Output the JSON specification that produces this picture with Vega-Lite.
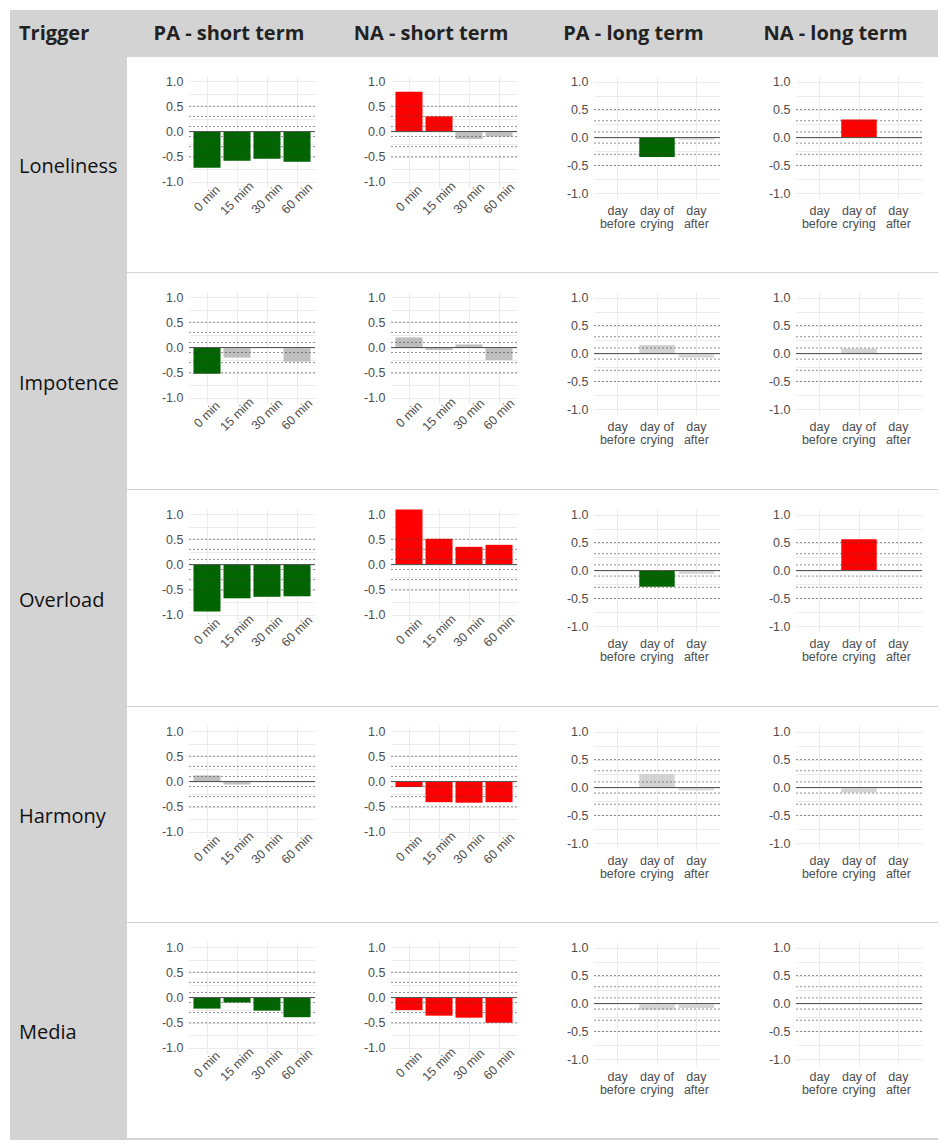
{"$schema":"https://vega.github.io/schema/vega-lite/v6.json","padding":{"left":10,"top":10,"right":10,"bottom":5},"background":"white","data":{"values":[{}]},
"datasets":{
"refs":[{"ref":-0.5},{"ref":-0.3},{"ref":-0.1},{"ref":0.1},{"ref":0.3},{"ref":0.5}],
"zero":[{"ref":0}],
"bars":[
{"trigger":"Loneliness","affect":"PA","term":"short","time":"0 min","value":-0.72,"sig":"PA"},
{"trigger":"Loneliness","affect":"PA","term":"short","time":"15 mim","value":-0.58,"sig":"PA"},
{"trigger":"Loneliness","affect":"PA","term":"short","time":"30 min","value":-0.54,"sig":"PA"},
{"trigger":"Loneliness","affect":"PA","term":"short","time":"60 min","value":-0.6,"sig":"PA"},
{"trigger":"Loneliness","affect":"NA","term":"short","time":"0 min","value":0.79,"sig":"NA"},
{"trigger":"Loneliness","affect":"NA","term":"short","time":"15 mim","value":0.3,"sig":"NA"},
{"trigger":"Loneliness","affect":"NA","term":"short","time":"30 min","value":-0.15,"sig":"ns"},
{"trigger":"Loneliness","affect":"NA","term":"short","time":"60 min","value":-0.1,"sig":"ns"},
{"trigger":"Impotence","affect":"PA","term":"short","time":"0 min","value":-0.52,"sig":"PA"},
{"trigger":"Impotence","affect":"PA","term":"short","time":"15 mim","value":-0.2,"sig":"ns"},
{"trigger":"Impotence","affect":"PA","term":"short","time":"30 min","value":0,"sig":"ns"},
{"trigger":"Impotence","affect":"PA","term":"short","time":"60 min","value":-0.28,"sig":"ns"},
{"trigger":"Impotence","affect":"NA","term":"short","time":"0 min","value":0.2,"sig":"ns"},
{"trigger":"Impotence","affect":"NA","term":"short","time":"15 mim","value":-0.05,"sig":"ns"},
{"trigger":"Impotence","affect":"NA","term":"short","time":"30 min","value":0.06,"sig":"ns"},
{"trigger":"Impotence","affect":"NA","term":"short","time":"60 min","value":-0.25,"sig":"ns"},
{"trigger":"Overload","affect":"PA","term":"short","time":"0 min","value":-0.93,"sig":"PA"},
{"trigger":"Overload","affect":"PA","term":"short","time":"15 mim","value":-0.67,"sig":"PA"},
{"trigger":"Overload","affect":"PA","term":"short","time":"30 min","value":-0.64,"sig":"PA"},
{"trigger":"Overload","affect":"PA","term":"short","time":"60 min","value":-0.63,"sig":"PA"},
{"trigger":"Overload","affect":"NA","term":"short","time":"0 min","value":1.09,"sig":"NA"},
{"trigger":"Overload","affect":"NA","term":"short","time":"15 mim","value":0.51,"sig":"NA"},
{"trigger":"Overload","affect":"NA","term":"short","time":"30 min","value":0.35,"sig":"NA"},
{"trigger":"Overload","affect":"NA","term":"short","time":"60 min","value":0.39,"sig":"NA"},
{"trigger":"Harmony","affect":"PA","term":"short","time":"0 min","value":0.12,"sig":"ns"},
{"trigger":"Harmony","affect":"PA","term":"short","time":"15 mim","value":-0.06,"sig":"ns"},
{"trigger":"Harmony","affect":"PA","term":"short","time":"30 min","value":0,"sig":"ns"},
{"trigger":"Harmony","affect":"PA","term":"short","time":"60 min","value":0,"sig":"ns"},
{"trigger":"Harmony","affect":"NA","term":"short","time":"0 min","value":-0.11,"sig":"NA"},
{"trigger":"Harmony","affect":"NA","term":"short","time":"15 mim","value":-0.41,"sig":"NA"},
{"trigger":"Harmony","affect":"NA","term":"short","time":"30 min","value":-0.42,"sig":"NA"},
{"trigger":"Harmony","affect":"NA","term":"short","time":"60 min","value":-0.41,"sig":"NA"},
{"trigger":"Media","affect":"PA","term":"short","time":"0 min","value":-0.22,"sig":"PA"},
{"trigger":"Media","affect":"PA","term":"short","time":"15 mim","value":-0.1,"sig":"PA"},
{"trigger":"Media","affect":"PA","term":"short","time":"30 min","value":-0.26,"sig":"PA"},
{"trigger":"Media","affect":"PA","term":"short","time":"60 min","value":-0.39,"sig":"PA"},
{"trigger":"Media","affect":"NA","term":"short","time":"0 min","value":-0.25,"sig":"NA"},
{"trigger":"Media","affect":"NA","term":"short","time":"15 mim","value":-0.36,"sig":"NA"},
{"trigger":"Media","affect":"NA","term":"short","time":"30 min","value":-0.4,"sig":"NA"},
{"trigger":"Media","affect":"NA","term":"short","time":"60 min","value":-0.5,"sig":"NA"},
{"trigger":"Loneliness","affect":"PA","term":"long","time":"day before","value":0,"sig":"ns"},
{"trigger":"Loneliness","affect":"PA","term":"long","time":"day of crying","value":-0.35,"sig":"PA"},
{"trigger":"Loneliness","affect":"PA","term":"long","time":"day after","value":-0.04,"sig":"ns"},
{"trigger":"Loneliness","affect":"NA","term":"long","time":"day before","value":0,"sig":"ns"},
{"trigger":"Loneliness","affect":"NA","term":"long","time":"day of crying","value":0.32,"sig":"NA"},
{"trigger":"Loneliness","affect":"NA","term":"long","time":"day after","value":0,"sig":"ns"},
{"trigger":"Impotence","affect":"PA","term":"long","time":"day before","value":0,"sig":"ns"},
{"trigger":"Impotence","affect":"PA","term":"long","time":"day of crying","value":0.15,"sig":"ns"},
{"trigger":"Impotence","affect":"PA","term":"long","time":"day after","value":-0.07,"sig":"ns"},
{"trigger":"Impotence","affect":"NA","term":"long","time":"day before","value":0,"sig":"ns"},
{"trigger":"Impotence","affect":"NA","term":"long","time":"day of crying","value":0.09,"sig":"ns"},
{"trigger":"Impotence","affect":"NA","term":"long","time":"day after","value":0,"sig":"ns"},
{"trigger":"Overload","affect":"PA","term":"long","time":"day before","value":0,"sig":"ns"},
{"trigger":"Overload","affect":"PA","term":"long","time":"day of crying","value":-0.29,"sig":"PA"},
{"trigger":"Overload","affect":"PA","term":"long","time":"day after","value":-0.06,"sig":"ns"},
{"trigger":"Overload","affect":"NA","term":"long","time":"day before","value":0,"sig":"ns"},
{"trigger":"Overload","affect":"NA","term":"long","time":"day of crying","value":0.56,"sig":"NA"},
{"trigger":"Overload","affect":"NA","term":"long","time":"day after","value":0,"sig":"ns"},
{"trigger":"Harmony","affect":"PA","term":"long","time":"day before","value":0,"sig":"ns"},
{"trigger":"Harmony","affect":"PA","term":"long","time":"day of crying","value":0.24,"sig":"ns"},
{"trigger":"Harmony","affect":"PA","term":"long","time":"day after","value":-0.05,"sig":"ns"},
{"trigger":"Harmony","affect":"NA","term":"long","time":"day before","value":0,"sig":"ns"},
{"trigger":"Harmony","affect":"NA","term":"long","time":"day of crying","value":-0.09,"sig":"ns"},
{"trigger":"Harmony","affect":"NA","term":"long","time":"day after","value":0,"sig":"ns"},
{"trigger":"Media","affect":"PA","term":"long","time":"day before","value":0,"sig":"ns"},
{"trigger":"Media","affect":"PA","term":"long","time":"day of crying","value":-0.11,"sig":"ns"},
{"trigger":"Media","affect":"PA","term":"long","time":"day after","value":-0.08,"sig":"ns"},
{"trigger":"Media","affect":"NA","term":"long","time":"day before","value":0,"sig":"ns"},
{"trigger":"Media","affect":"NA","term":"long","time":"day of crying","value":0,"sig":"ns"},
{"trigger":"Media","affect":"NA","term":"long","time":"day after","value":0,"sig":"ns"}
]},
"columns":10,"spacing":0,"bounds":"flush","align":"each",
"resolve":{"scale":{"color":"independent","x":"independent","y":"independent"}},
"concat":[
{"width":117,"height":47,"view":{"fill":"#d3d3d3"},"data":{"values":[{"h":"Trigger"}]},"mark":{"type":"text","font":"Open Sans","fontWeight":"bold","fontSize":20,"align":"left","dx":-49.5,"color":"#222222"},"encoding":{"text":{"field":"h"}}},
{"width":62,"height":47,"view":{"fill":"#d3d3d3"},"mark":{"type":"point","opacity":0}},
{"width":126,"height":47,"view":{"fill":"#d3d3d3"},"data":{"values":[{"h":"PA - short term"}]},"mark":{"type":"text","font":"Open Sans","fontWeight":"bold","fontSize":20,"dx":-23,"color":"#222222"},"encoding":{"text":{"field":"h"}}},
{"width":76,"height":47,"view":{"fill":"#d3d3d3"},"mark":{"type":"point","opacity":0}},
{"width":126,"height":47,"view":{"fill":"#d3d3d3"},"data":{"values":[{"h":"NA - short term"}]},"mark":{"type":"text","font":"Open Sans","fontWeight":"bold","fontSize":20,"dx":-23,"color":"#222222"},"encoding":{"text":{"field":"h"}}},
{"width":77,"height":47,"view":{"fill":"#d3d3d3"},"mark":{"type":"point","opacity":0}},
{"width":126,"height":47,"view":{"fill":"#d3d3d3"},"data":{"values":[{"h":"PA - long term"}]},"mark":{"type":"text","font":"Open Sans","fontWeight":"bold","fontSize":20,"dx":-23.5,"color":"#222222"},"encoding":{"text":{"field":"h"}}},
{"width":76,"height":47,"view":{"fill":"#d3d3d3"},"mark":{"type":"point","opacity":0}},
{"width":126,"height":47,"view":{"fill":"#d3d3d3"},"data":{"values":[{"h":"NA - long term"}]},"mark":{"type":"text","font":"Open Sans","fontWeight":"bold","fontSize":20,"dx":-23.5,"color":"#222222"},"encoding":{"text":{"field":"h"}}},
{"width":16,"height":47,"view":{"fill":"#d3d3d3"},"mark":{"type":"point","opacity":0}},

{"width":117,"height":19,"view":{"fill":"#d3d3d3"},"mark":{"type":"point","opacity":0}},
{"width":1,"height":1,"mark":{"type":"point","opacity":0}},{"width":1,"height":1,"mark":{"type":"point","opacity":0}},{"width":1,"height":1,"mark":{"type":"point","opacity":0}},{"width":1,"height":1,"mark":{"type":"point","opacity":0}},{"width":1,"height":1,"mark":{"type":"point","opacity":0}},{"width":1,"height":1,"mark":{"type":"point","opacity":0}},{"width":1,"height":1,"mark":{"type":"point","opacity":0}},{"width":1,"height":1,"mark":{"type":"point","opacity":0}},{"width":1,"height":1,"mark":{"type":"point","opacity":0}},
{"width":117,"height":196,"view":{"fill":"#d3d3d3"},"data":{"values":[{"t":"Loneliness"}]},"mark":{"type":"text","font":"Open Sans","fontSize":20,"align":"left","dx":-49.5,"dy":-7,"color":"#111111"},"encoding":{"text":{"field":"t"}}},
{"width":1,"height":1,"mark":{"type":"point","opacity":0}},
{"width":126,"height":111,"layer":[{"data":{"name":"bars"},"transform":[{"filter":"datum.trigger=='Loneliness' && datum.affect=='PA' && datum.term=='short'"}],"mark":"bar","encoding":{"x":{"field":"time","type":"nominal","title":null,"scale":{"domain":["0 min","15 mim","30 min","60 min"],"paddingInner":0.1,"paddingOuter":0.15},"axis":{"grid":true,"bandPosition":0.5,"labelAngle":-45,"labelAlign":"center","labelBaseline":"middle","labelPadding":11,"labelOverlap":false,"labelFlush":false}},"y":{"field":"value","type":"quantitative","title":null,"scale":{"domain":[-1.1,1.1],"nice":false},"axis":{"values":[-1,-0.75,-0.5,-0.25,0,0.25,0.5,0.75,1],"labelOverlap":false,"labelExpr":"indexof([-1,-0.5,0,0.5,1],datum.value)>=0 ? replace(format(datum.value,'.1f'),'\u2212','-') : ''"}},"color":{"field":"sig","type":"nominal","legend":null,"scale":{"domain":["PA","NA","ns"],"range":["#006400","#ff0000","#bebebe"]}}}},{"data":{"name":"refs"},"mark":{"type":"rule","color":"#444444","strokeWidth":0.6,"strokeDash":[2,2]},"encoding":{"y":{"field":"ref","type":"quantitative","title":null,"scale":{"domain":[-1.1,1.1],"nice":false},"axis":{"values":[-1,-0.75,-0.5,-0.25,0,0.25,0.5,0.75,1],"labelOverlap":false,"labelExpr":"indexof([-1,-0.5,0,0.5,1],datum.value)>=0 ? replace(format(datum.value,'.1f'),'\u2212','-') : ''"}}}},{"data":{"name":"zero"},"mark":{"type":"rule","color":"#555555","strokeWidth":1.2},"encoding":{"y":{"field":"ref","type":"quantitative","title":null,"scale":{"domain":[-1.1,1.1],"nice":false},"axis":{"values":[-1,-0.75,-0.5,-0.25,0,0.25,0.5,0.75,1],"labelOverlap":false,"labelExpr":"indexof([-1,-0.5,0,0.5,1],datum.value)>=0 ? replace(format(datum.value,'.1f'),'\u2212','-') : ''"}}}}]},
{"width":1,"height":1,"mark":{"type":"point","opacity":0}},
{"width":126,"height":111,"layer":[{"data":{"name":"bars"},"transform":[{"filter":"datum.trigger=='Loneliness' && datum.affect=='NA' && datum.term=='short'"}],"mark":"bar","encoding":{"x":{"field":"time","type":"nominal","title":null,"scale":{"domain":["0 min","15 mim","30 min","60 min"],"paddingInner":0.1,"paddingOuter":0.15},"axis":{"grid":true,"bandPosition":0.5,"labelAngle":-45,"labelAlign":"center","labelBaseline":"middle","labelPadding":11,"labelOverlap":false,"labelFlush":false}},"y":{"field":"value","type":"quantitative","title":null,"scale":{"domain":[-1.1,1.1],"nice":false},"axis":{"values":[-1,-0.75,-0.5,-0.25,0,0.25,0.5,0.75,1],"labelOverlap":false,"labelExpr":"indexof([-1,-0.5,0,0.5,1],datum.value)>=0 ? replace(format(datum.value,'.1f'),'\u2212','-') : ''"}},"color":{"field":"sig","type":"nominal","legend":null,"scale":{"domain":["PA","NA","ns"],"range":["#006400","#ff0000","#bebebe"]}}}},{"data":{"name":"refs"},"mark":{"type":"rule","color":"#444444","strokeWidth":0.6,"strokeDash":[2,2]},"encoding":{"y":{"field":"ref","type":"quantitative","title":null,"scale":{"domain":[-1.1,1.1],"nice":false},"axis":{"values":[-1,-0.75,-0.5,-0.25,0,0.25,0.5,0.75,1],"labelOverlap":false,"labelExpr":"indexof([-1,-0.5,0,0.5,1],datum.value)>=0 ? replace(format(datum.value,'.1f'),'\u2212','-') : ''"}}}},{"data":{"name":"zero"},"mark":{"type":"rule","color":"#555555","strokeWidth":1.2},"encoding":{"y":{"field":"ref","type":"quantitative","title":null,"scale":{"domain":[-1.1,1.1],"nice":false},"axis":{"values":[-1,-0.75,-0.5,-0.25,0,0.25,0.5,0.75,1],"labelOverlap":false,"labelExpr":"indexof([-1,-0.5,0,0.5,1],datum.value)>=0 ? replace(format(datum.value,'.1f'),'\u2212','-') : ''"}}}}]},
{"width":1,"height":1,"mark":{"type":"point","opacity":0}},
{"width":126,"height":123,"layer":[{"data":{"name":"bars"},"transform":[{"filter":"datum.trigger=='Loneliness' && datum.affect=='PA' && datum.term=='long'"}],"mark":"bar","encoding":{"x":{"field":"time","type":"nominal","title":null,"scale":{"domain":["day before","day of crying","day after"],"paddingInner":0.1,"paddingOuter":0.15},"axis":{"grid":true,"bandPosition":0.5,"labelAngle":0,"labelAlign":"center","labelBaseline":"top","labelPadding":5,"labelLineHeight":13.5,"labelOverlap":false,"labelFlush":false,"labelExpr":"datum.value=='day of crying' ? ['day of','crying'] : split(datum.value,' ')"}},"y":{"field":"value","type":"quantitative","title":null,"scale":{"domain":[-1.1,1.1],"nice":false},"axis":{"values":[-1,-0.75,-0.5,-0.25,0,0.25,0.5,0.75,1],"labelOverlap":false,"labelExpr":"indexof([-1,-0.5,0,0.5,1],datum.value)>=0 ? replace(format(datum.value,'.1f'),'\u2212','-') : ''"}},"color":{"field":"sig","type":"nominal","legend":null,"scale":{"domain":["PA","NA","ns"],"range":["#006400","#ff0000","#d3d3d3"]}}}},{"data":{"name":"refs"},"mark":{"type":"rule","color":"#444444","strokeWidth":0.6,"strokeDash":[2,2]},"encoding":{"y":{"field":"ref","type":"quantitative","title":null,"scale":{"domain":[-1.1,1.1],"nice":false},"axis":{"values":[-1,-0.75,-0.5,-0.25,0,0.25,0.5,0.75,1],"labelOverlap":false,"labelExpr":"indexof([-1,-0.5,0,0.5,1],datum.value)>=0 ? replace(format(datum.value,'.1f'),'\u2212','-') : ''"}}}},{"data":{"name":"zero"},"mark":{"type":"rule","color":"#555555","strokeWidth":1.2},"encoding":{"y":{"field":"ref","type":"quantitative","title":null,"scale":{"domain":[-1.1,1.1],"nice":false},"axis":{"values":[-1,-0.75,-0.5,-0.25,0,0.25,0.5,0.75,1],"labelOverlap":false,"labelExpr":"indexof([-1,-0.5,0,0.5,1],datum.value)>=0 ? replace(format(datum.value,'.1f'),'\u2212','-') : ''"}}}}]},
{"width":1,"height":1,"mark":{"type":"point","opacity":0}},
{"width":126,"height":123,"layer":[{"data":{"name":"bars"},"transform":[{"filter":"datum.trigger=='Loneliness' && datum.affect=='NA' && datum.term=='long'"}],"mark":"bar","encoding":{"x":{"field":"time","type":"nominal","title":null,"scale":{"domain":["day before","day of crying","day after"],"paddingInner":0.1,"paddingOuter":0.15},"axis":{"grid":true,"bandPosition":0.5,"labelAngle":0,"labelAlign":"center","labelBaseline":"top","labelPadding":5,"labelLineHeight":13.5,"labelOverlap":false,"labelFlush":false,"labelExpr":"datum.value=='day of crying' ? ['day of','crying'] : split(datum.value,' ')"}},"y":{"field":"value","type":"quantitative","title":null,"scale":{"domain":[-1.1,1.1],"nice":false},"axis":{"values":[-1,-0.75,-0.5,-0.25,0,0.25,0.5,0.75,1],"labelOverlap":false,"labelExpr":"indexof([-1,-0.5,0,0.5,1],datum.value)>=0 ? replace(format(datum.value,'.1f'),'\u2212','-') : ''"}},"color":{"field":"sig","type":"nominal","legend":null,"scale":{"domain":["PA","NA","ns"],"range":["#006400","#ff0000","#d3d3d3"]}}}},{"data":{"name":"refs"},"mark":{"type":"rule","color":"#444444","strokeWidth":0.6,"strokeDash":[2,2]},"encoding":{"y":{"field":"ref","type":"quantitative","title":null,"scale":{"domain":[-1.1,1.1],"nice":false},"axis":{"values":[-1,-0.75,-0.5,-0.25,0,0.25,0.5,0.75,1],"labelOverlap":false,"labelExpr":"indexof([-1,-0.5,0,0.5,1],datum.value)>=0 ? replace(format(datum.value,'.1f'),'\u2212','-') : ''"}}}},{"data":{"name":"zero"},"mark":{"type":"rule","color":"#555555","strokeWidth":1.2},"encoding":{"y":{"field":"ref","type":"quantitative","title":null,"scale":{"domain":[-1.1,1.1],"nice":false},"axis":{"values":[-1,-0.75,-0.5,-0.25,0,0.25,0.5,0.75,1],"labelOverlap":false,"labelExpr":"indexof([-1,-0.5,0,0.5,1],datum.value)>=0 ? replace(format(datum.value,'.1f'),'\u2212','-') : ''"}}}}]},
{"width":1,"height":1,"mark":{"type":"point","opacity":0}},
{"width":117,"height":1,"view":{"fill":"#d3d3d3"},"mark":{"type":"point","opacity":0}},{"width":62,"height":1,"view":{"fill":"#d3d3d3"},"mark":{"type":"point","opacity":0}},{"width":126,"height":1,"view":{"fill":"#d3d3d3"},"mark":{"type":"point","opacity":0}},{"width":76,"height":1,"view":{"fill":"#d3d3d3"},"mark":{"type":"point","opacity":0}},{"width":126,"height":1,"view":{"fill":"#d3d3d3"},"mark":{"type":"point","opacity":0}},{"width":77,"height":1,"view":{"fill":"#d3d3d3"},"mark":{"type":"point","opacity":0}},{"width":126,"height":1,"view":{"fill":"#d3d3d3"},"mark":{"type":"point","opacity":0}},{"width":76,"height":1,"view":{"fill":"#d3d3d3"},"mark":{"type":"point","opacity":0}},{"width":126,"height":1,"view":{"fill":"#d3d3d3"},"mark":{"type":"point","opacity":0}},{"width":16,"height":1,"view":{"fill":"#d3d3d3"},"mark":{"type":"point","opacity":0}},

{"width":117,"height":19,"view":{"fill":"#d3d3d3"},"mark":{"type":"point","opacity":0}},
{"width":1,"height":1,"mark":{"type":"point","opacity":0}},{"width":1,"height":1,"mark":{"type":"point","opacity":0}},{"width":1,"height":1,"mark":{"type":"point","opacity":0}},{"width":1,"height":1,"mark":{"type":"point","opacity":0}},{"width":1,"height":1,"mark":{"type":"point","opacity":0}},{"width":1,"height":1,"mark":{"type":"point","opacity":0}},{"width":1,"height":1,"mark":{"type":"point","opacity":0}},{"width":1,"height":1,"mark":{"type":"point","opacity":0}},{"width":1,"height":1,"mark":{"type":"point","opacity":0}},
{"width":117,"height":197,"view":{"fill":"#d3d3d3"},"data":{"values":[{"t":"Impotence"}]},"mark":{"type":"text","font":"Open Sans","fontSize":20,"align":"left","dx":-49.5,"dy":-7,"color":"#111111"},"encoding":{"text":{"field":"t"}}},
{"width":1,"height":1,"mark":{"type":"point","opacity":0}},
{"width":126,"height":111,"layer":[{"data":{"name":"bars"},"transform":[{"filter":"datum.trigger=='Impotence' && datum.affect=='PA' && datum.term=='short'"}],"mark":"bar","encoding":{"x":{"field":"time","type":"nominal","title":null,"scale":{"domain":["0 min","15 mim","30 min","60 min"],"paddingInner":0.1,"paddingOuter":0.15},"axis":{"grid":true,"bandPosition":0.5,"labelAngle":-45,"labelAlign":"center","labelBaseline":"middle","labelPadding":11,"labelOverlap":false,"labelFlush":false}},"y":{"field":"value","type":"quantitative","title":null,"scale":{"domain":[-1.1,1.1],"nice":false},"axis":{"values":[-1,-0.75,-0.5,-0.25,0,0.25,0.5,0.75,1],"labelOverlap":false,"labelExpr":"indexof([-1,-0.5,0,0.5,1],datum.value)>=0 ? replace(format(datum.value,'.1f'),'\u2212','-') : ''"}},"color":{"field":"sig","type":"nominal","legend":null,"scale":{"domain":["PA","NA","ns"],"range":["#006400","#ff0000","#bebebe"]}}}},{"data":{"name":"refs"},"mark":{"type":"rule","color":"#444444","strokeWidth":0.6,"strokeDash":[2,2]},"encoding":{"y":{"field":"ref","type":"quantitative","title":null,"scale":{"domain":[-1.1,1.1],"nice":false},"axis":{"values":[-1,-0.75,-0.5,-0.25,0,0.25,0.5,0.75,1],"labelOverlap":false,"labelExpr":"indexof([-1,-0.5,0,0.5,1],datum.value)>=0 ? replace(format(datum.value,'.1f'),'\u2212','-') : ''"}}}},{"data":{"name":"zero"},"mark":{"type":"rule","color":"#555555","strokeWidth":1.2},"encoding":{"y":{"field":"ref","type":"quantitative","title":null,"scale":{"domain":[-1.1,1.1],"nice":false},"axis":{"values":[-1,-0.75,-0.5,-0.25,0,0.25,0.5,0.75,1],"labelOverlap":false,"labelExpr":"indexof([-1,-0.5,0,0.5,1],datum.value)>=0 ? replace(format(datum.value,'.1f'),'\u2212','-') : ''"}}}}]},
{"width":1,"height":1,"mark":{"type":"point","opacity":0}},
{"width":126,"height":111,"layer":[{"data":{"name":"bars"},"transform":[{"filter":"datum.trigger=='Impotence' && datum.affect=='NA' && datum.term=='short'"}],"mark":"bar","encoding":{"x":{"field":"time","type":"nominal","title":null,"scale":{"domain":["0 min","15 mim","30 min","60 min"],"paddingInner":0.1,"paddingOuter":0.15},"axis":{"grid":true,"bandPosition":0.5,"labelAngle":-45,"labelAlign":"center","labelBaseline":"middle","labelPadding":11,"labelOverlap":false,"labelFlush":false}},"y":{"field":"value","type":"quantitative","title":null,"scale":{"domain":[-1.1,1.1],"nice":false},"axis":{"values":[-1,-0.75,-0.5,-0.25,0,0.25,0.5,0.75,1],"labelOverlap":false,"labelExpr":"indexof([-1,-0.5,0,0.5,1],datum.value)>=0 ? replace(format(datum.value,'.1f'),'\u2212','-') : ''"}},"color":{"field":"sig","type":"nominal","legend":null,"scale":{"domain":["PA","NA","ns"],"range":["#006400","#ff0000","#bebebe"]}}}},{"data":{"name":"refs"},"mark":{"type":"rule","color":"#444444","strokeWidth":0.6,"strokeDash":[2,2]},"encoding":{"y":{"field":"ref","type":"quantitative","title":null,"scale":{"domain":[-1.1,1.1],"nice":false},"axis":{"values":[-1,-0.75,-0.5,-0.25,0,0.25,0.5,0.75,1],"labelOverlap":false,"labelExpr":"indexof([-1,-0.5,0,0.5,1],datum.value)>=0 ? replace(format(datum.value,'.1f'),'\u2212','-') : ''"}}}},{"data":{"name":"zero"},"mark":{"type":"rule","color":"#555555","strokeWidth":1.2},"encoding":{"y":{"field":"ref","type":"quantitative","title":null,"scale":{"domain":[-1.1,1.1],"nice":false},"axis":{"values":[-1,-0.75,-0.5,-0.25,0,0.25,0.5,0.75,1],"labelOverlap":false,"labelExpr":"indexof([-1,-0.5,0,0.5,1],datum.value)>=0 ? replace(format(datum.value,'.1f'),'\u2212','-') : ''"}}}}]},
{"width":1,"height":1,"mark":{"type":"point","opacity":0}},
{"width":126,"height":123,"layer":[{"data":{"name":"bars"},"transform":[{"filter":"datum.trigger=='Impotence' && datum.affect=='PA' && datum.term=='long'"}],"mark":"bar","encoding":{"x":{"field":"time","type":"nominal","title":null,"scale":{"domain":["day before","day of crying","day after"],"paddingInner":0.1,"paddingOuter":0.15},"axis":{"grid":true,"bandPosition":0.5,"labelAngle":0,"labelAlign":"center","labelBaseline":"top","labelPadding":5,"labelLineHeight":13.5,"labelOverlap":false,"labelFlush":false,"labelExpr":"datum.value=='day of crying' ? ['day of','crying'] : split(datum.value,' ')"}},"y":{"field":"value","type":"quantitative","title":null,"scale":{"domain":[-1.1,1.1],"nice":false},"axis":{"values":[-1,-0.75,-0.5,-0.25,0,0.25,0.5,0.75,1],"labelOverlap":false,"labelExpr":"indexof([-1,-0.5,0,0.5,1],datum.value)>=0 ? replace(format(datum.value,'.1f'),'\u2212','-') : ''"}},"color":{"field":"sig","type":"nominal","legend":null,"scale":{"domain":["PA","NA","ns"],"range":["#006400","#ff0000","#d3d3d3"]}}}},{"data":{"name":"refs"},"mark":{"type":"rule","color":"#444444","strokeWidth":0.6,"strokeDash":[2,2]},"encoding":{"y":{"field":"ref","type":"quantitative","title":null,"scale":{"domain":[-1.1,1.1],"nice":false},"axis":{"values":[-1,-0.75,-0.5,-0.25,0,0.25,0.5,0.75,1],"labelOverlap":false,"labelExpr":"indexof([-1,-0.5,0,0.5,1],datum.value)>=0 ? replace(format(datum.value,'.1f'),'\u2212','-') : ''"}}}},{"data":{"name":"zero"},"mark":{"type":"rule","color":"#555555","strokeWidth":1.2},"encoding":{"y":{"field":"ref","type":"quantitative","title":null,"scale":{"domain":[-1.1,1.1],"nice":false},"axis":{"values":[-1,-0.75,-0.5,-0.25,0,0.25,0.5,0.75,1],"labelOverlap":false,"labelExpr":"indexof([-1,-0.5,0,0.5,1],datum.value)>=0 ? replace(format(datum.value,'.1f'),'\u2212','-') : ''"}}}}]},
{"width":1,"height":1,"mark":{"type":"point","opacity":0}},
{"width":126,"height":123,"layer":[{"data":{"name":"bars"},"transform":[{"filter":"datum.trigger=='Impotence' && datum.affect=='NA' && datum.term=='long'"}],"mark":"bar","encoding":{"x":{"field":"time","type":"nominal","title":null,"scale":{"domain":["day before","day of crying","day after"],"paddingInner":0.1,"paddingOuter":0.15},"axis":{"grid":true,"bandPosition":0.5,"labelAngle":0,"labelAlign":"center","labelBaseline":"top","labelPadding":5,"labelLineHeight":13.5,"labelOverlap":false,"labelFlush":false,"labelExpr":"datum.value=='day of crying' ? ['day of','crying'] : split(datum.value,' ')"}},"y":{"field":"value","type":"quantitative","title":null,"scale":{"domain":[-1.1,1.1],"nice":false},"axis":{"values":[-1,-0.75,-0.5,-0.25,0,0.25,0.5,0.75,1],"labelOverlap":false,"labelExpr":"indexof([-1,-0.5,0,0.5,1],datum.value)>=0 ? replace(format(datum.value,'.1f'),'\u2212','-') : ''"}},"color":{"field":"sig","type":"nominal","legend":null,"scale":{"domain":["PA","NA","ns"],"range":["#006400","#ff0000","#d3d3d3"]}}}},{"data":{"name":"refs"},"mark":{"type":"rule","color":"#444444","strokeWidth":0.6,"strokeDash":[2,2]},"encoding":{"y":{"field":"ref","type":"quantitative","title":null,"scale":{"domain":[-1.1,1.1],"nice":false},"axis":{"values":[-1,-0.75,-0.5,-0.25,0,0.25,0.5,0.75,1],"labelOverlap":false,"labelExpr":"indexof([-1,-0.5,0,0.5,1],datum.value)>=0 ? replace(format(datum.value,'.1f'),'\u2212','-') : ''"}}}},{"data":{"name":"zero"},"mark":{"type":"rule","color":"#555555","strokeWidth":1.2},"encoding":{"y":{"field":"ref","type":"quantitative","title":null,"scale":{"domain":[-1.1,1.1],"nice":false},"axis":{"values":[-1,-0.75,-0.5,-0.25,0,0.25,0.5,0.75,1],"labelOverlap":false,"labelExpr":"indexof([-1,-0.5,0,0.5,1],datum.value)>=0 ? replace(format(datum.value,'.1f'),'\u2212','-') : ''"}}}}]},
{"width":1,"height":1,"mark":{"type":"point","opacity":0}},
{"width":117,"height":1,"view":{"fill":"#d3d3d3"},"mark":{"type":"point","opacity":0}},{"width":62,"height":1,"view":{"fill":"#d3d3d3"},"mark":{"type":"point","opacity":0}},{"width":126,"height":1,"view":{"fill":"#d3d3d3"},"mark":{"type":"point","opacity":0}},{"width":76,"height":1,"view":{"fill":"#d3d3d3"},"mark":{"type":"point","opacity":0}},{"width":126,"height":1,"view":{"fill":"#d3d3d3"},"mark":{"type":"point","opacity":0}},{"width":77,"height":1,"view":{"fill":"#d3d3d3"},"mark":{"type":"point","opacity":0}},{"width":126,"height":1,"view":{"fill":"#d3d3d3"},"mark":{"type":"point","opacity":0}},{"width":76,"height":1,"view":{"fill":"#d3d3d3"},"mark":{"type":"point","opacity":0}},{"width":126,"height":1,"view":{"fill":"#d3d3d3"},"mark":{"type":"point","opacity":0}},{"width":16,"height":1,"view":{"fill":"#d3d3d3"},"mark":{"type":"point","opacity":0}},

{"width":117,"height":19,"view":{"fill":"#d3d3d3"},"mark":{"type":"point","opacity":0}},
{"width":1,"height":1,"mark":{"type":"point","opacity":0}},{"width":1,"height":1,"mark":{"type":"point","opacity":0}},{"width":1,"height":1,"mark":{"type":"point","opacity":0}},{"width":1,"height":1,"mark":{"type":"point","opacity":0}},{"width":1,"height":1,"mark":{"type":"point","opacity":0}},{"width":1,"height":1,"mark":{"type":"point","opacity":0}},{"width":1,"height":1,"mark":{"type":"point","opacity":0}},{"width":1,"height":1,"mark":{"type":"point","opacity":0}},{"width":1,"height":1,"mark":{"type":"point","opacity":0}},
{"width":117,"height":197,"view":{"fill":"#d3d3d3"},"data":{"values":[{"t":"Overload"}]},"mark":{"type":"text","font":"Open Sans","fontSize":20,"align":"left","dx":-49.5,"dy":-7,"color":"#111111"},"encoding":{"text":{"field":"t"}}},
{"width":1,"height":1,"mark":{"type":"point","opacity":0}},
{"width":126,"height":111,"layer":[{"data":{"name":"bars"},"transform":[{"filter":"datum.trigger=='Overload' && datum.affect=='PA' && datum.term=='short'"}],"mark":"bar","encoding":{"x":{"field":"time","type":"nominal","title":null,"scale":{"domain":["0 min","15 mim","30 min","60 min"],"paddingInner":0.1,"paddingOuter":0.15},"axis":{"grid":true,"bandPosition":0.5,"labelAngle":-45,"labelAlign":"center","labelBaseline":"middle","labelPadding":11,"labelOverlap":false,"labelFlush":false}},"y":{"field":"value","type":"quantitative","title":null,"scale":{"domain":[-1.1,1.1],"nice":false},"axis":{"values":[-1,-0.75,-0.5,-0.25,0,0.25,0.5,0.75,1],"labelOverlap":false,"labelExpr":"indexof([-1,-0.5,0,0.5,1],datum.value)>=0 ? replace(format(datum.value,'.1f'),'\u2212','-') : ''"}},"color":{"field":"sig","type":"nominal","legend":null,"scale":{"domain":["PA","NA","ns"],"range":["#006400","#ff0000","#bebebe"]}}}},{"data":{"name":"refs"},"mark":{"type":"rule","color":"#444444","strokeWidth":0.6,"strokeDash":[2,2]},"encoding":{"y":{"field":"ref","type":"quantitative","title":null,"scale":{"domain":[-1.1,1.1],"nice":false},"axis":{"values":[-1,-0.75,-0.5,-0.25,0,0.25,0.5,0.75,1],"labelOverlap":false,"labelExpr":"indexof([-1,-0.5,0,0.5,1],datum.value)>=0 ? replace(format(datum.value,'.1f'),'\u2212','-') : ''"}}}},{"data":{"name":"zero"},"mark":{"type":"rule","color":"#555555","strokeWidth":1.2},"encoding":{"y":{"field":"ref","type":"quantitative","title":null,"scale":{"domain":[-1.1,1.1],"nice":false},"axis":{"values":[-1,-0.75,-0.5,-0.25,0,0.25,0.5,0.75,1],"labelOverlap":false,"labelExpr":"indexof([-1,-0.5,0,0.5,1],datum.value)>=0 ? replace(format(datum.value,'.1f'),'\u2212','-') : ''"}}}}]},
{"width":1,"height":1,"mark":{"type":"point","opacity":0}},
{"width":126,"height":111,"layer":[{"data":{"name":"bars"},"transform":[{"filter":"datum.trigger=='Overload' && datum.affect=='NA' && datum.term=='short'"}],"mark":"bar","encoding":{"x":{"field":"time","type":"nominal","title":null,"scale":{"domain":["0 min","15 mim","30 min","60 min"],"paddingInner":0.1,"paddingOuter":0.15},"axis":{"grid":true,"bandPosition":0.5,"labelAngle":-45,"labelAlign":"center","labelBaseline":"middle","labelPadding":11,"labelOverlap":false,"labelFlush":false}},"y":{"field":"value","type":"quantitative","title":null,"scale":{"domain":[-1.1,1.1],"nice":false},"axis":{"values":[-1,-0.75,-0.5,-0.25,0,0.25,0.5,0.75,1],"labelOverlap":false,"labelExpr":"indexof([-1,-0.5,0,0.5,1],datum.value)>=0 ? replace(format(datum.value,'.1f'),'\u2212','-') : ''"}},"color":{"field":"sig","type":"nominal","legend":null,"scale":{"domain":["PA","NA","ns"],"range":["#006400","#ff0000","#bebebe"]}}}},{"data":{"name":"refs"},"mark":{"type":"rule","color":"#444444","strokeWidth":0.6,"strokeDash":[2,2]},"encoding":{"y":{"field":"ref","type":"quantitative","title":null,"scale":{"domain":[-1.1,1.1],"nice":false},"axis":{"values":[-1,-0.75,-0.5,-0.25,0,0.25,0.5,0.75,1],"labelOverlap":false,"labelExpr":"indexof([-1,-0.5,0,0.5,1],datum.value)>=0 ? replace(format(datum.value,'.1f'),'\u2212','-') : ''"}}}},{"data":{"name":"zero"},"mark":{"type":"rule","color":"#555555","strokeWidth":1.2},"encoding":{"y":{"field":"ref","type":"quantitative","title":null,"scale":{"domain":[-1.1,1.1],"nice":false},"axis":{"values":[-1,-0.75,-0.5,-0.25,0,0.25,0.5,0.75,1],"labelOverlap":false,"labelExpr":"indexof([-1,-0.5,0,0.5,1],datum.value)>=0 ? replace(format(datum.value,'.1f'),'\u2212','-') : ''"}}}}]},
{"width":1,"height":1,"mark":{"type":"point","opacity":0}},
{"width":126,"height":123,"layer":[{"data":{"name":"bars"},"transform":[{"filter":"datum.trigger=='Overload' && datum.affect=='PA' && datum.term=='long'"}],"mark":"bar","encoding":{"x":{"field":"time","type":"nominal","title":null,"scale":{"domain":["day before","day of crying","day after"],"paddingInner":0.1,"paddingOuter":0.15},"axis":{"grid":true,"bandPosition":0.5,"labelAngle":0,"labelAlign":"center","labelBaseline":"top","labelPadding":5,"labelLineHeight":13.5,"labelOverlap":false,"labelFlush":false,"labelExpr":"datum.value=='day of crying' ? ['day of','crying'] : split(datum.value,' ')"}},"y":{"field":"value","type":"quantitative","title":null,"scale":{"domain":[-1.1,1.1],"nice":false},"axis":{"values":[-1,-0.75,-0.5,-0.25,0,0.25,0.5,0.75,1],"labelOverlap":false,"labelExpr":"indexof([-1,-0.5,0,0.5,1],datum.value)>=0 ? replace(format(datum.value,'.1f'),'\u2212','-') : ''"}},"color":{"field":"sig","type":"nominal","legend":null,"scale":{"domain":["PA","NA","ns"],"range":["#006400","#ff0000","#d3d3d3"]}}}},{"data":{"name":"refs"},"mark":{"type":"rule","color":"#444444","strokeWidth":0.6,"strokeDash":[2,2]},"encoding":{"y":{"field":"ref","type":"quantitative","title":null,"scale":{"domain":[-1.1,1.1],"nice":false},"axis":{"values":[-1,-0.75,-0.5,-0.25,0,0.25,0.5,0.75,1],"labelOverlap":false,"labelExpr":"indexof([-1,-0.5,0,0.5,1],datum.value)>=0 ? replace(format(datum.value,'.1f'),'\u2212','-') : ''"}}}},{"data":{"name":"zero"},"mark":{"type":"rule","color":"#555555","strokeWidth":1.2},"encoding":{"y":{"field":"ref","type":"quantitative","title":null,"scale":{"domain":[-1.1,1.1],"nice":false},"axis":{"values":[-1,-0.75,-0.5,-0.25,0,0.25,0.5,0.75,1],"labelOverlap":false,"labelExpr":"indexof([-1,-0.5,0,0.5,1],datum.value)>=0 ? replace(format(datum.value,'.1f'),'\u2212','-') : ''"}}}}]},
{"width":1,"height":1,"mark":{"type":"point","opacity":0}},
{"width":126,"height":123,"layer":[{"data":{"name":"bars"},"transform":[{"filter":"datum.trigger=='Overload' && datum.affect=='NA' && datum.term=='long'"}],"mark":"bar","encoding":{"x":{"field":"time","type":"nominal","title":null,"scale":{"domain":["day before","day of crying","day after"],"paddingInner":0.1,"paddingOuter":0.15},"axis":{"grid":true,"bandPosition":0.5,"labelAngle":0,"labelAlign":"center","labelBaseline":"top","labelPadding":5,"labelLineHeight":13.5,"labelOverlap":false,"labelFlush":false,"labelExpr":"datum.value=='day of crying' ? ['day of','crying'] : split(datum.value,' ')"}},"y":{"field":"value","type":"quantitative","title":null,"scale":{"domain":[-1.1,1.1],"nice":false},"axis":{"values":[-1,-0.75,-0.5,-0.25,0,0.25,0.5,0.75,1],"labelOverlap":false,"labelExpr":"indexof([-1,-0.5,0,0.5,1],datum.value)>=0 ? replace(format(datum.value,'.1f'),'\u2212','-') : ''"}},"color":{"field":"sig","type":"nominal","legend":null,"scale":{"domain":["PA","NA","ns"],"range":["#006400","#ff0000","#d3d3d3"]}}}},{"data":{"name":"refs"},"mark":{"type":"rule","color":"#444444","strokeWidth":0.6,"strokeDash":[2,2]},"encoding":{"y":{"field":"ref","type":"quantitative","title":null,"scale":{"domain":[-1.1,1.1],"nice":false},"axis":{"values":[-1,-0.75,-0.5,-0.25,0,0.25,0.5,0.75,1],"labelOverlap":false,"labelExpr":"indexof([-1,-0.5,0,0.5,1],datum.value)>=0 ? replace(format(datum.value,'.1f'),'\u2212','-') : ''"}}}},{"data":{"name":"zero"},"mark":{"type":"rule","color":"#555555","strokeWidth":1.2},"encoding":{"y":{"field":"ref","type":"quantitative","title":null,"scale":{"domain":[-1.1,1.1],"nice":false},"axis":{"values":[-1,-0.75,-0.5,-0.25,0,0.25,0.5,0.75,1],"labelOverlap":false,"labelExpr":"indexof([-1,-0.5,0,0.5,1],datum.value)>=0 ? replace(format(datum.value,'.1f'),'\u2212','-') : ''"}}}}]},
{"width":1,"height":1,"mark":{"type":"point","opacity":0}},
{"width":117,"height":1,"view":{"fill":"#d3d3d3"},"mark":{"type":"point","opacity":0}},{"width":62,"height":1,"view":{"fill":"#d3d3d3"},"mark":{"type":"point","opacity":0}},{"width":126,"height":1,"view":{"fill":"#d3d3d3"},"mark":{"type":"point","opacity":0}},{"width":76,"height":1,"view":{"fill":"#d3d3d3"},"mark":{"type":"point","opacity":0}},{"width":126,"height":1,"view":{"fill":"#d3d3d3"},"mark":{"type":"point","opacity":0}},{"width":77,"height":1,"view":{"fill":"#d3d3d3"},"mark":{"type":"point","opacity":0}},{"width":126,"height":1,"view":{"fill":"#d3d3d3"},"mark":{"type":"point","opacity":0}},{"width":76,"height":1,"view":{"fill":"#d3d3d3"},"mark":{"type":"point","opacity":0}},{"width":126,"height":1,"view":{"fill":"#d3d3d3"},"mark":{"type":"point","opacity":0}},{"width":16,"height":1,"view":{"fill":"#d3d3d3"},"mark":{"type":"point","opacity":0}},

{"width":117,"height":19,"view":{"fill":"#d3d3d3"},"mark":{"type":"point","opacity":0}},
{"width":1,"height":1,"mark":{"type":"point","opacity":0}},{"width":1,"height":1,"mark":{"type":"point","opacity":0}},{"width":1,"height":1,"mark":{"type":"point","opacity":0}},{"width":1,"height":1,"mark":{"type":"point","opacity":0}},{"width":1,"height":1,"mark":{"type":"point","opacity":0}},{"width":1,"height":1,"mark":{"type":"point","opacity":0}},{"width":1,"height":1,"mark":{"type":"point","opacity":0}},{"width":1,"height":1,"mark":{"type":"point","opacity":0}},{"width":1,"height":1,"mark":{"type":"point","opacity":0}},
{"width":117,"height":196,"view":{"fill":"#d3d3d3"},"data":{"values":[{"t":"Harmony"}]},"mark":{"type":"text","font":"Open Sans","fontSize":20,"align":"left","dx":-49.5,"dy":-7,"color":"#111111"},"encoding":{"text":{"field":"t"}}},
{"width":1,"height":1,"mark":{"type":"point","opacity":0}},
{"width":126,"height":111,"layer":[{"data":{"name":"bars"},"transform":[{"filter":"datum.trigger=='Harmony' && datum.affect=='PA' && datum.term=='short'"}],"mark":"bar","encoding":{"x":{"field":"time","type":"nominal","title":null,"scale":{"domain":["0 min","15 mim","30 min","60 min"],"paddingInner":0.1,"paddingOuter":0.15},"axis":{"grid":true,"bandPosition":0.5,"labelAngle":-45,"labelAlign":"center","labelBaseline":"middle","labelPadding":11,"labelOverlap":false,"labelFlush":false}},"y":{"field":"value","type":"quantitative","title":null,"scale":{"domain":[-1.1,1.1],"nice":false},"axis":{"values":[-1,-0.75,-0.5,-0.25,0,0.25,0.5,0.75,1],"labelOverlap":false,"labelExpr":"indexof([-1,-0.5,0,0.5,1],datum.value)>=0 ? replace(format(datum.value,'.1f'),'\u2212','-') : ''"}},"color":{"field":"sig","type":"nominal","legend":null,"scale":{"domain":["PA","NA","ns"],"range":["#006400","#ff0000","#bebebe"]}}}},{"data":{"name":"refs"},"mark":{"type":"rule","color":"#444444","strokeWidth":0.6,"strokeDash":[2,2]},"encoding":{"y":{"field":"ref","type":"quantitative","title":null,"scale":{"domain":[-1.1,1.1],"nice":false},"axis":{"values":[-1,-0.75,-0.5,-0.25,0,0.25,0.5,0.75,1],"labelOverlap":false,"labelExpr":"indexof([-1,-0.5,0,0.5,1],datum.value)>=0 ? replace(format(datum.value,'.1f'),'\u2212','-') : ''"}}}},{"data":{"name":"zero"},"mark":{"type":"rule","color":"#555555","strokeWidth":1.2},"encoding":{"y":{"field":"ref","type":"quantitative","title":null,"scale":{"domain":[-1.1,1.1],"nice":false},"axis":{"values":[-1,-0.75,-0.5,-0.25,0,0.25,0.5,0.75,1],"labelOverlap":false,"labelExpr":"indexof([-1,-0.5,0,0.5,1],datum.value)>=0 ? replace(format(datum.value,'.1f'),'\u2212','-') : ''"}}}}]},
{"width":1,"height":1,"mark":{"type":"point","opacity":0}},
{"width":126,"height":111,"layer":[{"data":{"name":"bars"},"transform":[{"filter":"datum.trigger=='Harmony' && datum.affect=='NA' && datum.term=='short'"}],"mark":"bar","encoding":{"x":{"field":"time","type":"nominal","title":null,"scale":{"domain":["0 min","15 mim","30 min","60 min"],"paddingInner":0.1,"paddingOuter":0.15},"axis":{"grid":true,"bandPosition":0.5,"labelAngle":-45,"labelAlign":"center","labelBaseline":"middle","labelPadding":11,"labelOverlap":false,"labelFlush":false}},"y":{"field":"value","type":"quantitative","title":null,"scale":{"domain":[-1.1,1.1],"nice":false},"axis":{"values":[-1,-0.75,-0.5,-0.25,0,0.25,0.5,0.75,1],"labelOverlap":false,"labelExpr":"indexof([-1,-0.5,0,0.5,1],datum.value)>=0 ? replace(format(datum.value,'.1f'),'\u2212','-') : ''"}},"color":{"field":"sig","type":"nominal","legend":null,"scale":{"domain":["PA","NA","ns"],"range":["#006400","#ff0000","#bebebe"]}}}},{"data":{"name":"refs"},"mark":{"type":"rule","color":"#444444","strokeWidth":0.6,"strokeDash":[2,2]},"encoding":{"y":{"field":"ref","type":"quantitative","title":null,"scale":{"domain":[-1.1,1.1],"nice":false},"axis":{"values":[-1,-0.75,-0.5,-0.25,0,0.25,0.5,0.75,1],"labelOverlap":false,"labelExpr":"indexof([-1,-0.5,0,0.5,1],datum.value)>=0 ? replace(format(datum.value,'.1f'),'\u2212','-') : ''"}}}},{"data":{"name":"zero"},"mark":{"type":"rule","color":"#555555","strokeWidth":1.2},"encoding":{"y":{"field":"ref","type":"quantitative","title":null,"scale":{"domain":[-1.1,1.1],"nice":false},"axis":{"values":[-1,-0.75,-0.5,-0.25,0,0.25,0.5,0.75,1],"labelOverlap":false,"labelExpr":"indexof([-1,-0.5,0,0.5,1],datum.value)>=0 ? replace(format(datum.value,'.1f'),'\u2212','-') : ''"}}}}]},
{"width":1,"height":1,"mark":{"type":"point","opacity":0}},
{"width":126,"height":123,"layer":[{"data":{"name":"bars"},"transform":[{"filter":"datum.trigger=='Harmony' && datum.affect=='PA' && datum.term=='long'"}],"mark":"bar","encoding":{"x":{"field":"time","type":"nominal","title":null,"scale":{"domain":["day before","day of crying","day after"],"paddingInner":0.1,"paddingOuter":0.15},"axis":{"grid":true,"bandPosition":0.5,"labelAngle":0,"labelAlign":"center","labelBaseline":"top","labelPadding":5,"labelLineHeight":13.5,"labelOverlap":false,"labelFlush":false,"labelExpr":"datum.value=='day of crying' ? ['day of','crying'] : split(datum.value,' ')"}},"y":{"field":"value","type":"quantitative","title":null,"scale":{"domain":[-1.1,1.1],"nice":false},"axis":{"values":[-1,-0.75,-0.5,-0.25,0,0.25,0.5,0.75,1],"labelOverlap":false,"labelExpr":"indexof([-1,-0.5,0,0.5,1],datum.value)>=0 ? replace(format(datum.value,'.1f'),'\u2212','-') : ''"}},"color":{"field":"sig","type":"nominal","legend":null,"scale":{"domain":["PA","NA","ns"],"range":["#006400","#ff0000","#d3d3d3"]}}}},{"data":{"name":"refs"},"mark":{"type":"rule","color":"#444444","strokeWidth":0.6,"strokeDash":[2,2]},"encoding":{"y":{"field":"ref","type":"quantitative","title":null,"scale":{"domain":[-1.1,1.1],"nice":false},"axis":{"values":[-1,-0.75,-0.5,-0.25,0,0.25,0.5,0.75,1],"labelOverlap":false,"labelExpr":"indexof([-1,-0.5,0,0.5,1],datum.value)>=0 ? replace(format(datum.value,'.1f'),'\u2212','-') : ''"}}}},{"data":{"name":"zero"},"mark":{"type":"rule","color":"#555555","strokeWidth":1.2},"encoding":{"y":{"field":"ref","type":"quantitative","title":null,"scale":{"domain":[-1.1,1.1],"nice":false},"axis":{"values":[-1,-0.75,-0.5,-0.25,0,0.25,0.5,0.75,1],"labelOverlap":false,"labelExpr":"indexof([-1,-0.5,0,0.5,1],datum.value)>=0 ? replace(format(datum.value,'.1f'),'\u2212','-') : ''"}}}}]},
{"width":1,"height":1,"mark":{"type":"point","opacity":0}},
{"width":126,"height":123,"layer":[{"data":{"name":"bars"},"transform":[{"filter":"datum.trigger=='Harmony' && datum.affect=='NA' && datum.term=='long'"}],"mark":"bar","encoding":{"x":{"field":"time","type":"nominal","title":null,"scale":{"domain":["day before","day of crying","day after"],"paddingInner":0.1,"paddingOuter":0.15},"axis":{"grid":true,"bandPosition":0.5,"labelAngle":0,"labelAlign":"center","labelBaseline":"top","labelPadding":5,"labelLineHeight":13.5,"labelOverlap":false,"labelFlush":false,"labelExpr":"datum.value=='day of crying' ? ['day of','crying'] : split(datum.value,' ')"}},"y":{"field":"value","type":"quantitative","title":null,"scale":{"domain":[-1.1,1.1],"nice":false},"axis":{"values":[-1,-0.75,-0.5,-0.25,0,0.25,0.5,0.75,1],"labelOverlap":false,"labelExpr":"indexof([-1,-0.5,0,0.5,1],datum.value)>=0 ? replace(format(datum.value,'.1f'),'\u2212','-') : ''"}},"color":{"field":"sig","type":"nominal","legend":null,"scale":{"domain":["PA","NA","ns"],"range":["#006400","#ff0000","#d3d3d3"]}}}},{"data":{"name":"refs"},"mark":{"type":"rule","color":"#444444","strokeWidth":0.6,"strokeDash":[2,2]},"encoding":{"y":{"field":"ref","type":"quantitative","title":null,"scale":{"domain":[-1.1,1.1],"nice":false},"axis":{"values":[-1,-0.75,-0.5,-0.25,0,0.25,0.5,0.75,1],"labelOverlap":false,"labelExpr":"indexof([-1,-0.5,0,0.5,1],datum.value)>=0 ? replace(format(datum.value,'.1f'),'\u2212','-') : ''"}}}},{"data":{"name":"zero"},"mark":{"type":"rule","color":"#555555","strokeWidth":1.2},"encoding":{"y":{"field":"ref","type":"quantitative","title":null,"scale":{"domain":[-1.1,1.1],"nice":false},"axis":{"values":[-1,-0.75,-0.5,-0.25,0,0.25,0.5,0.75,1],"labelOverlap":false,"labelExpr":"indexof([-1,-0.5,0,0.5,1],datum.value)>=0 ? replace(format(datum.value,'.1f'),'\u2212','-') : ''"}}}}]},
{"width":1,"height":1,"mark":{"type":"point","opacity":0}},
{"width":117,"height":1,"view":{"fill":"#d3d3d3"},"mark":{"type":"point","opacity":0}},{"width":62,"height":1,"view":{"fill":"#d3d3d3"},"mark":{"type":"point","opacity":0}},{"width":126,"height":1,"view":{"fill":"#d3d3d3"},"mark":{"type":"point","opacity":0}},{"width":76,"height":1,"view":{"fill":"#d3d3d3"},"mark":{"type":"point","opacity":0}},{"width":126,"height":1,"view":{"fill":"#d3d3d3"},"mark":{"type":"point","opacity":0}},{"width":77,"height":1,"view":{"fill":"#d3d3d3"},"mark":{"type":"point","opacity":0}},{"width":126,"height":1,"view":{"fill":"#d3d3d3"},"mark":{"type":"point","opacity":0}},{"width":76,"height":1,"view":{"fill":"#d3d3d3"},"mark":{"type":"point","opacity":0}},{"width":126,"height":1,"view":{"fill":"#d3d3d3"},"mark":{"type":"point","opacity":0}},{"width":16,"height":1,"view":{"fill":"#d3d3d3"},"mark":{"type":"point","opacity":0}},

{"width":117,"height":19,"view":{"fill":"#d3d3d3"},"mark":{"type":"point","opacity":0}},
{"width":1,"height":1,"mark":{"type":"point","opacity":0}},{"width":1,"height":1,"mark":{"type":"point","opacity":0}},{"width":1,"height":1,"mark":{"type":"point","opacity":0}},{"width":1,"height":1,"mark":{"type":"point","opacity":0}},{"width":1,"height":1,"mark":{"type":"point","opacity":0}},{"width":1,"height":1,"mark":{"type":"point","opacity":0}},{"width":1,"height":1,"mark":{"type":"point","opacity":0}},{"width":1,"height":1,"mark":{"type":"point","opacity":0}},{"width":1,"height":1,"mark":{"type":"point","opacity":0}},
{"width":117,"height":196,"view":{"fill":"#d3d3d3"},"data":{"values":[{"t":"Media"}]},"mark":{"type":"text","font":"Open Sans","fontSize":20,"align":"left","dx":-49.5,"dy":-7,"color":"#111111"},"encoding":{"text":{"field":"t"}}},
{"width":1,"height":1,"mark":{"type":"point","opacity":0}},
{"width":126,"height":111,"layer":[{"data":{"name":"bars"},"transform":[{"filter":"datum.trigger=='Media' && datum.affect=='PA' && datum.term=='short'"}],"mark":"bar","encoding":{"x":{"field":"time","type":"nominal","title":null,"scale":{"domain":["0 min","15 mim","30 min","60 min"],"paddingInner":0.1,"paddingOuter":0.15},"axis":{"grid":true,"bandPosition":0.5,"labelAngle":-45,"labelAlign":"center","labelBaseline":"middle","labelPadding":11,"labelOverlap":false,"labelFlush":false}},"y":{"field":"value","type":"quantitative","title":null,"scale":{"domain":[-1.1,1.1],"nice":false},"axis":{"values":[-1,-0.75,-0.5,-0.25,0,0.25,0.5,0.75,1],"labelOverlap":false,"labelExpr":"indexof([-1,-0.5,0,0.5,1],datum.value)>=0 ? replace(format(datum.value,'.1f'),'\u2212','-') : ''"}},"color":{"field":"sig","type":"nominal","legend":null,"scale":{"domain":["PA","NA","ns"],"range":["#006400","#ff0000","#bebebe"]}}}},{"data":{"name":"refs"},"mark":{"type":"rule","color":"#444444","strokeWidth":0.6,"strokeDash":[2,2]},"encoding":{"y":{"field":"ref","type":"quantitative","title":null,"scale":{"domain":[-1.1,1.1],"nice":false},"axis":{"values":[-1,-0.75,-0.5,-0.25,0,0.25,0.5,0.75,1],"labelOverlap":false,"labelExpr":"indexof([-1,-0.5,0,0.5,1],datum.value)>=0 ? replace(format(datum.value,'.1f'),'\u2212','-') : ''"}}}},{"data":{"name":"zero"},"mark":{"type":"rule","color":"#555555","strokeWidth":1.2},"encoding":{"y":{"field":"ref","type":"quantitative","title":null,"scale":{"domain":[-1.1,1.1],"nice":false},"axis":{"values":[-1,-0.75,-0.5,-0.25,0,0.25,0.5,0.75,1],"labelOverlap":false,"labelExpr":"indexof([-1,-0.5,0,0.5,1],datum.value)>=0 ? replace(format(datum.value,'.1f'),'\u2212','-') : ''"}}}}]},
{"width":1,"height":1,"mark":{"type":"point","opacity":0}},
{"width":126,"height":111,"layer":[{"data":{"name":"bars"},"transform":[{"filter":"datum.trigger=='Media' && datum.affect=='NA' && datum.term=='short'"}],"mark":"bar","encoding":{"x":{"field":"time","type":"nominal","title":null,"scale":{"domain":["0 min","15 mim","30 min","60 min"],"paddingInner":0.1,"paddingOuter":0.15},"axis":{"grid":true,"bandPosition":0.5,"labelAngle":-45,"labelAlign":"center","labelBaseline":"middle","labelPadding":11,"labelOverlap":false,"labelFlush":false}},"y":{"field":"value","type":"quantitative","title":null,"scale":{"domain":[-1.1,1.1],"nice":false},"axis":{"values":[-1,-0.75,-0.5,-0.25,0,0.25,0.5,0.75,1],"labelOverlap":false,"labelExpr":"indexof([-1,-0.5,0,0.5,1],datum.value)>=0 ? replace(format(datum.value,'.1f'),'\u2212','-') : ''"}},"color":{"field":"sig","type":"nominal","legend":null,"scale":{"domain":["PA","NA","ns"],"range":["#006400","#ff0000","#bebebe"]}}}},{"data":{"name":"refs"},"mark":{"type":"rule","color":"#444444","strokeWidth":0.6,"strokeDash":[2,2]},"encoding":{"y":{"field":"ref","type":"quantitative","title":null,"scale":{"domain":[-1.1,1.1],"nice":false},"axis":{"values":[-1,-0.75,-0.5,-0.25,0,0.25,0.5,0.75,1],"labelOverlap":false,"labelExpr":"indexof([-1,-0.5,0,0.5,1],datum.value)>=0 ? replace(format(datum.value,'.1f'),'\u2212','-') : ''"}}}},{"data":{"name":"zero"},"mark":{"type":"rule","color":"#555555","strokeWidth":1.2},"encoding":{"y":{"field":"ref","type":"quantitative","title":null,"scale":{"domain":[-1.1,1.1],"nice":false},"axis":{"values":[-1,-0.75,-0.5,-0.25,0,0.25,0.5,0.75,1],"labelOverlap":false,"labelExpr":"indexof([-1,-0.5,0,0.5,1],datum.value)>=0 ? replace(format(datum.value,'.1f'),'\u2212','-') : ''"}}}}]},
{"width":1,"height":1,"mark":{"type":"point","opacity":0}},
{"width":126,"height":123,"layer":[{"data":{"name":"bars"},"transform":[{"filter":"datum.trigger=='Media' && datum.affect=='PA' && datum.term=='long'"}],"mark":"bar","encoding":{"x":{"field":"time","type":"nominal","title":null,"scale":{"domain":["day before","day of crying","day after"],"paddingInner":0.1,"paddingOuter":0.15},"axis":{"grid":true,"bandPosition":0.5,"labelAngle":0,"labelAlign":"center","labelBaseline":"top","labelPadding":5,"labelLineHeight":13.5,"labelOverlap":false,"labelFlush":false,"labelExpr":"datum.value=='day of crying' ? ['day of','crying'] : split(datum.value,' ')"}},"y":{"field":"value","type":"quantitative","title":null,"scale":{"domain":[-1.1,1.1],"nice":false},"axis":{"values":[-1,-0.75,-0.5,-0.25,0,0.25,0.5,0.75,1],"labelOverlap":false,"labelExpr":"indexof([-1,-0.5,0,0.5,1],datum.value)>=0 ? replace(format(datum.value,'.1f'),'\u2212','-') : ''"}},"color":{"field":"sig","type":"nominal","legend":null,"scale":{"domain":["PA","NA","ns"],"range":["#006400","#ff0000","#d3d3d3"]}}}},{"data":{"name":"refs"},"mark":{"type":"rule","color":"#444444","strokeWidth":0.6,"strokeDash":[2,2]},"encoding":{"y":{"field":"ref","type":"quantitative","title":null,"scale":{"domain":[-1.1,1.1],"nice":false},"axis":{"values":[-1,-0.75,-0.5,-0.25,0,0.25,0.5,0.75,1],"labelOverlap":false,"labelExpr":"indexof([-1,-0.5,0,0.5,1],datum.value)>=0 ? replace(format(datum.value,'.1f'),'\u2212','-') : ''"}}}},{"data":{"name":"zero"},"mark":{"type":"rule","color":"#555555","strokeWidth":1.2},"encoding":{"y":{"field":"ref","type":"quantitative","title":null,"scale":{"domain":[-1.1,1.1],"nice":false},"axis":{"values":[-1,-0.75,-0.5,-0.25,0,0.25,0.5,0.75,1],"labelOverlap":false,"labelExpr":"indexof([-1,-0.5,0,0.5,1],datum.value)>=0 ? replace(format(datum.value,'.1f'),'\u2212','-') : ''"}}}}]},
{"width":1,"height":1,"mark":{"type":"point","opacity":0}},
{"width":126,"height":123,"layer":[{"data":{"name":"bars"},"transform":[{"filter":"datum.trigger=='Media' && datum.affect=='NA' && datum.term=='long'"}],"mark":"bar","encoding":{"x":{"field":"time","type":"nominal","title":null,"scale":{"domain":["day before","day of crying","day after"],"paddingInner":0.1,"paddingOuter":0.15},"axis":{"grid":true,"bandPosition":0.5,"labelAngle":0,"labelAlign":"center","labelBaseline":"top","labelPadding":5,"labelLineHeight":13.5,"labelOverlap":false,"labelFlush":false,"labelExpr":"datum.value=='day of crying' ? ['day of','crying'] : split(datum.value,' ')"}},"y":{"field":"value","type":"quantitative","title":null,"scale":{"domain":[-1.1,1.1],"nice":false},"axis":{"values":[-1,-0.75,-0.5,-0.25,0,0.25,0.5,0.75,1],"labelOverlap":false,"labelExpr":"indexof([-1,-0.5,0,0.5,1],datum.value)>=0 ? replace(format(datum.value,'.1f'),'\u2212','-') : ''"}},"color":{"field":"sig","type":"nominal","legend":null,"scale":{"domain":["PA","NA","ns"],"range":["#006400","#ff0000","#d3d3d3"]}}}},{"data":{"name":"refs"},"mark":{"type":"rule","color":"#444444","strokeWidth":0.6,"strokeDash":[2,2]},"encoding":{"y":{"field":"ref","type":"quantitative","title":null,"scale":{"domain":[-1.1,1.1],"nice":false},"axis":{"values":[-1,-0.75,-0.5,-0.25,0,0.25,0.5,0.75,1],"labelOverlap":false,"labelExpr":"indexof([-1,-0.5,0,0.5,1],datum.value)>=0 ? replace(format(datum.value,'.1f'),'\u2212','-') : ''"}}}},{"data":{"name":"zero"},"mark":{"type":"rule","color":"#555555","strokeWidth":1.2},"encoding":{"y":{"field":"ref","type":"quantitative","title":null,"scale":{"domain":[-1.1,1.1],"nice":false},"axis":{"values":[-1,-0.75,-0.5,-0.25,0,0.25,0.5,0.75,1],"labelOverlap":false,"labelExpr":"indexof([-1,-0.5,0,0.5,1],datum.value)>=0 ? replace(format(datum.value,'.1f'),'\u2212','-') : ''"}}}}]},
{"width":1,"height":1,"mark":{"type":"point","opacity":0}},
{"width":117,"height":2,"view":{"fill":"#d3d3d3"},"mark":{"type":"point","opacity":0}},{"width":62,"height":2,"view":{"fill":"#d3d3d3"},"mark":{"type":"point","opacity":0}},{"width":126,"height":2,"view":{"fill":"#d3d3d3"},"mark":{"type":"point","opacity":0}},{"width":76,"height":2,"view":{"fill":"#d3d3d3"},"mark":{"type":"point","opacity":0}},{"width":126,"height":2,"view":{"fill":"#d3d3d3"},"mark":{"type":"point","opacity":0}},{"width":77,"height":2,"view":{"fill":"#d3d3d3"},"mark":{"type":"point","opacity":0}},{"width":126,"height":2,"view":{"fill":"#d3d3d3"},"mark":{"type":"point","opacity":0}},{"width":76,"height":2,"view":{"fill":"#d3d3d3"},"mark":{"type":"point","opacity":0}},{"width":126,"height":2,"view":{"fill":"#d3d3d3"},"mark":{"type":"point","opacity":0}},{"width":16,"height":2,"view":{"fill":"#d3d3d3"},"mark":{"type":"point","opacity":0}}
],
"config":{"view":{"stroke":null},"axis":{"gridColor":"#ebebeb","gridWidth":1,"domain":false,"ticks":false,"labelOverlap":false,"labelColor":"#4d4d4d","labelFont":"Liberation Sans","labelFontSize":12.5},"axisY":{"labelPadding":6},"bar":{"strokeWidth":0}}}
